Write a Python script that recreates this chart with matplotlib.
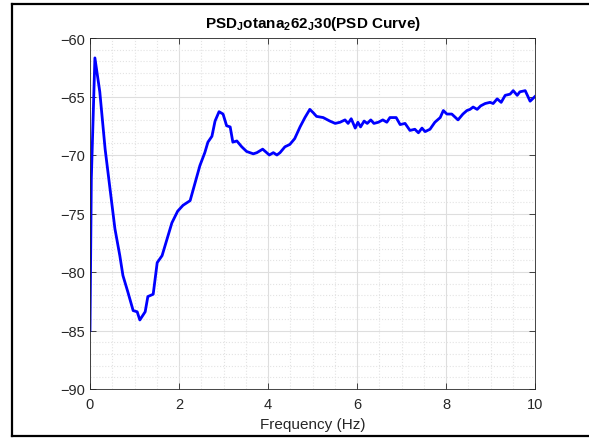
import matplotlib
matplotlib.use("Agg")
import matplotlib.pyplot as plt
from matplotlib.lines import Line2D
from matplotlib.ticker import MultipleLocator

plt.rcParams['font.family'] = ['Liberation Sans', 'DejaVu Sans']
plt.rcParams['mathtext.fontset'] = 'custom'
plt.rcParams['mathtext.bf'] = 'Liberation Sans:bold'

# PSD curve
freq = [0.0, 0.03, 0.11, 0.22, 0.34, 0.45, 0.56, 0.67, 0.74, 0.85, 0.97, 1.06,
        1.12, 1.24, 1.30, 1.42, 1.51, 1.62, 1.73, 1.84, 1.97, 2.09, 2.25, 2.36,
        2.47, 2.58, 2.65, 2.74, 2.81, 2.90, 2.99, 3.07, 3.15, 3.21, 3.30, 3.41,
        3.52, 3.67, 3.75, 3.88, 4.03, 4.12, 4.20, 4.27, 4.38, 4.49, 4.60, 4.72,
        4.83, 4.94, 5.02, 5.09, 5.24, 5.39, 5.51, 5.62, 5.73, 5.80, 5.87, 5.96,
        6.02, 6.08, 6.16, 6.23, 6.31, 6.38, 6.48, 6.58, 6.67, 6.74, 6.88, 6.97,
        7.08, 7.19, 7.30, 7.38, 7.46, 7.53, 7.64, 7.75, 7.87, 7.94, 8.02, 8.13,
        8.27, 8.38, 8.47, 8.54, 8.61, 8.70, 8.78, 8.88, 8.99, 9.06, 9.15, 9.24,
        9.33, 9.44, 9.51, 9.60, 9.66, 9.78, 9.89, 10.0]
psd = [-85.0, -72.0, -61.7, -64.6, -69.5, -72.9, -76.3, -78.6, -80.3, -81.7, -83.3, -83.4,
       -84.1, -83.4, -82.1, -81.9, -79.2, -78.6, -77.2, -75.8, -74.8, -74.3, -73.9, -72.4,
       -70.9, -69.8, -68.9, -68.4, -67.1, -66.3, -66.5, -67.5, -67.6, -68.9, -68.8, -69.3,
       -69.7, -69.9, -69.8, -69.5, -70.0, -69.8, -70.0, -69.8, -69.3, -69.1, -68.6, -67.6,
       -66.8, -66.1, -66.4, -66.7, -66.8, -67.1, -67.3, -67.2, -67.0, -67.3, -66.9, -67.7,
       -67.2, -67.6, -67.1, -67.3, -67.0, -67.3, -67.2, -67.0, -67.2, -66.8, -66.8, -67.4,
       -67.3, -67.9, -67.8, -68.1, -67.7, -68.0, -67.8, -67.2, -66.8, -66.2, -66.5, -66.5,
       -67.0, -66.5, -66.2, -66.1, -65.9, -66.1, -65.8, -65.6, -65.5, -65.6, -65.2, -65.5,
       -64.9, -64.8, -64.5, -64.9, -64.6, -64.5, -65.4, -65.0]

fig = plt.figure(figsize=(5.89, 4.39), dpi=100)
ax = fig.add_axes([90 / 589, 1 - 390 / 439, 445 / 589, 351 / 439])

ax.plot(freq, psd, color=(0, 0, 1), linewidth=2.0)

ax.set_xlim(0, 10)
ax.set_ylim(-90, -60)
ax.xaxis.set_major_locator(MultipleLocator(2))
ax.xaxis.set_minor_locator(MultipleLocator(0.5))
ax.yaxis.set_major_locator(MultipleLocator(5))
ax.yaxis.set_minor_locator(MultipleLocator(1))
ax.grid(which='major', color='#dedede', linewidth=0.8)
ax.grid(which='minor', color='#e3e3e3', linewidth=0.8, linestyle=':')
ax.set_axisbelow(True)

ax.tick_params(which='major', direction='in', length=4, top=True, right=True,
               colors='#262626', labelsize=10.5, width=0.6)
ax.tick_params(axis='x', which='major', pad=6)
ax.tick_params(which='minor', length=0)
for s in ax.spines.values():
    s.set_color('#262626')
    s.set_linewidth(0.6)

ax.set_xlabel('Frequency (Hz)', fontsize=11, color='#262626', labelpad=4)
ax.set_title(r'PSD$_\mathbf{J}$otana$_\mathbf{2}$62$_\mathbf{J}$30(PSD Curve)',
             fontsize=11, fontweight='bold', pad=8)

# black frame around the picture
fig.add_artist(Line2D([12 / 589, 12 / 589], [1 - 437 / 439, 1 - 5 / 439], color='black', lw=1.6))
fig.add_artist(Line2D([12 / 589, 1], [1 - 5 / 439, 1 - 5 / 439], color='black', lw=1.6))
fig.add_artist(Line2D([12 / 589, 1], [1 - 437 / 439, 1 - 437 / 439], color='black', lw=1.6))

fig.savefig('out.png', dpi=100)
